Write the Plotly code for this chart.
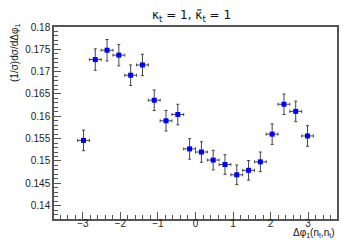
import numpy as np
import plotly.graph_objects as go

# bin centres: 20 bins of width pi/10 from -pi to pi
bin_width = np.pi / 10
dphi = -np.pi + bin_width * (np.arange(20) + 0.5)

# normalised distribution and its uncertainties
values = [0.1546, 0.1727, 0.1748, 0.1737, 0.1692, 0.1715, 0.1636, 0.1590, 0.1604, 0.1527,
          0.1520, 0.1502, 0.1492, 0.1469, 0.1479, 0.1498, 0.1560, 0.1627, 0.1611, 0.1556]
errors = [0.0023, 0.0024, 0.0024, 0.0024, 0.0023, 0.0024, 0.0023, 0.0023, 0.0023, 0.0023,
          0.0023, 0.0022, 0.0022, 0.0022, 0.0022, 0.0022, 0.0023, 0.0023, 0.0023, 0.0023]

font = "Liberation Sans, Arial, sans-serif"
axis_col = "#555555"

fig = go.Figure(go.Scatter(
    x=dphi, y=values,
    mode="markers",
    marker=dict(symbol="square", size=5, color="#0000ff"),
    error_y=dict(type="data", array=errors, color="#444444", thickness=1, width=1.5),
    error_x=dict(type="constant", value=bin_width / 2, color="#444444", thickness=1, width=1.5),
    showlegend=False,
))

fig.update_layout(
    width=355, height=240,
    margin=dict(l=46, r=26, t=19, b=29),
    paper_bgcolor="white", plot_bgcolor="white",
    font=dict(family=font, size=10, color="#222222"),
    xaxis=dict(
        range=[-1.2 * np.pi, 1.2 * np.pi],
        tickmode="linear", tick0=0, dtick=1,
        ticks="inside", ticklen=7, tickcolor=axis_col, tickwidth=1,
        minor=dict(ticks="inside", ticklen=4, dtick=0.2, tickcolor=axis_col),
        showline=True, linecolor=axis_col, linewidth=1.5, mirror=True,
        showgrid=False, zeroline=False,
        ticklabelstandoff=-6,
        tickfont=dict(size=10, color="#222222"),
    ),
    yaxis=dict(
        range=[0.137, 0.18],
        tickmode="linear", tick0=0.14, dtick=0.005,
        ticks="inside", ticklen=7, tickcolor=axis_col, tickwidth=1,
        minor=dict(ticks="inside", ticklen=4, dtick=0.001, tickcolor=axis_col),
        showline=True, linecolor=axis_col, linewidth=1.5, mirror=True,
        showgrid=False, zeroline=False,
        tickfont=dict(size=10, color="#222222"),
    ),
    annotations=[
        dict(text="κ<sub>t</sub> = 1, κ̃<sub>t</sub> = 1", xref="paper", yref="paper",
             x=0.487, y=1.0, yshift=11, showarrow=False, xanchor="center", yanchor="middle",
             font=dict(family="DejaVu Sans, Liberation Sans, sans-serif", size=12, color="#111111")),
        dict(text="(1/σ)dσ/dΔφ<sub>1</sub>", xref="paper", yref="paper",
             x=0, y=1.0, xshift=-39, yshift=5, textangle=-90, showarrow=False,
             xanchor="center", yanchor="top", font=dict(size=10, color="#111111")),
        dict(text="Δφ<sub>1</sub>(n<sub>t</sub>,n<sub>t</sub>)", xref="paper", yref="paper",
             x=1.0, y=0, xshift=0, yshift=-6, showarrow=False,
             xanchor="right", yanchor="top", font=dict(size=10, color="#111111")),
    ],
)

fig.write_html("out.html")
